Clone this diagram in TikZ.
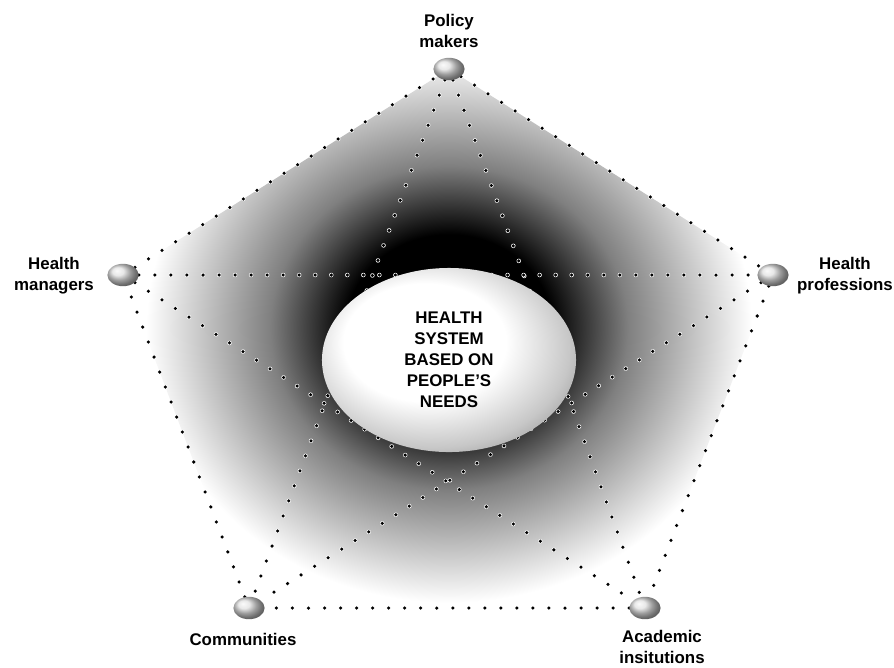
\documentclass[tikz,border=0pt]{standalone}
\usepackage{fontspec}
\setmainfont{Liberation Sans}
\usetikzlibrary{shapes.geometric,backgrounds}

\pgfdeclareradialshading{halo}{\pgfpoint{0bp}{0bp}}{color(0bp)=(black); color(7.5bp)=(black); color(13bp)=(black!50); color(22bp)=(white); color(50bp)=(white)}
\pgfdeclareradialshading{egg}{\pgfpoint{-7bp}{7bp}}{color(0bp)=(white); color(16bp)=(white); color(27bp)=(black!22); color(36bp)=(black!50); color(50bp)=(black!50)}

\tikzset{
  bead/.style={ellipse, inner sep=0pt, minimum width=0.78cm, minimum height=0.56cm, shading=ball, ball color=black!12},
  tag/.style={align=center, font=\fontsize{12}{15}\selectfont\bfseries},
  dotline/.style={line width=2.5pt, line cap=round, dash pattern=on 0pt off 11.4pt,
    preaction={draw=white, line width=3.2pt, line cap=round, dash pattern=on 0pt off 11.4pt}}
}

\begin{document}
\begin{tikzpicture}[x=0.025cm,y=-0.025cm]
\useasboundingbox (0,0) rectangle (894,667);

% the five partners
\node[bead] (policy) at (449,69) {};
\node[bead] (mgr) at (123,275) {};
\node[bead] (prof) at (773,275) {};
\node[bead] (comm) at (249,608) {};
\node[bead] (acad) at (645,608) {};

\node[tag] at (449,31) {Policy\\makers};
\node[tag] at (54,276) {Health\\managers};
\node[tag] at (845,276) {Health\\professions};
\node[tag] at (243,639) {Communities};
\node[tag] at (662,647) {Academic\\insitutions};

% the middle
\node[ellipse, shading=egg, minimum width=6.35cm, minimum height=4.6cm, tag] (hub) at (449,360)
  {HEALTH\\SYSTEM\\BASED ON\\PEOPLE'S\\NEEDS};

\begin{scope}[on background layer]
\begin{scope}
\clip (policy.center) -- (prof.center) -- (acad.center) -- (comm.center) -- (mgr.center) -- cycle;
\shade[shading=halo] (449,328) ellipse [x radius=8.6cm, y radius=7.8cm];
\end{scope}

\foreach \a/\b in {policy/prof,prof/acad,acad/comm,comm/mgr,mgr/policy,
                   policy/comm,policy/acad,mgr/prof,mgr/acad,prof/comm} {
\draw[dotline] (\a) -- (\b);
}
\end{scope}

\end{tikzpicture}
\end{document}
